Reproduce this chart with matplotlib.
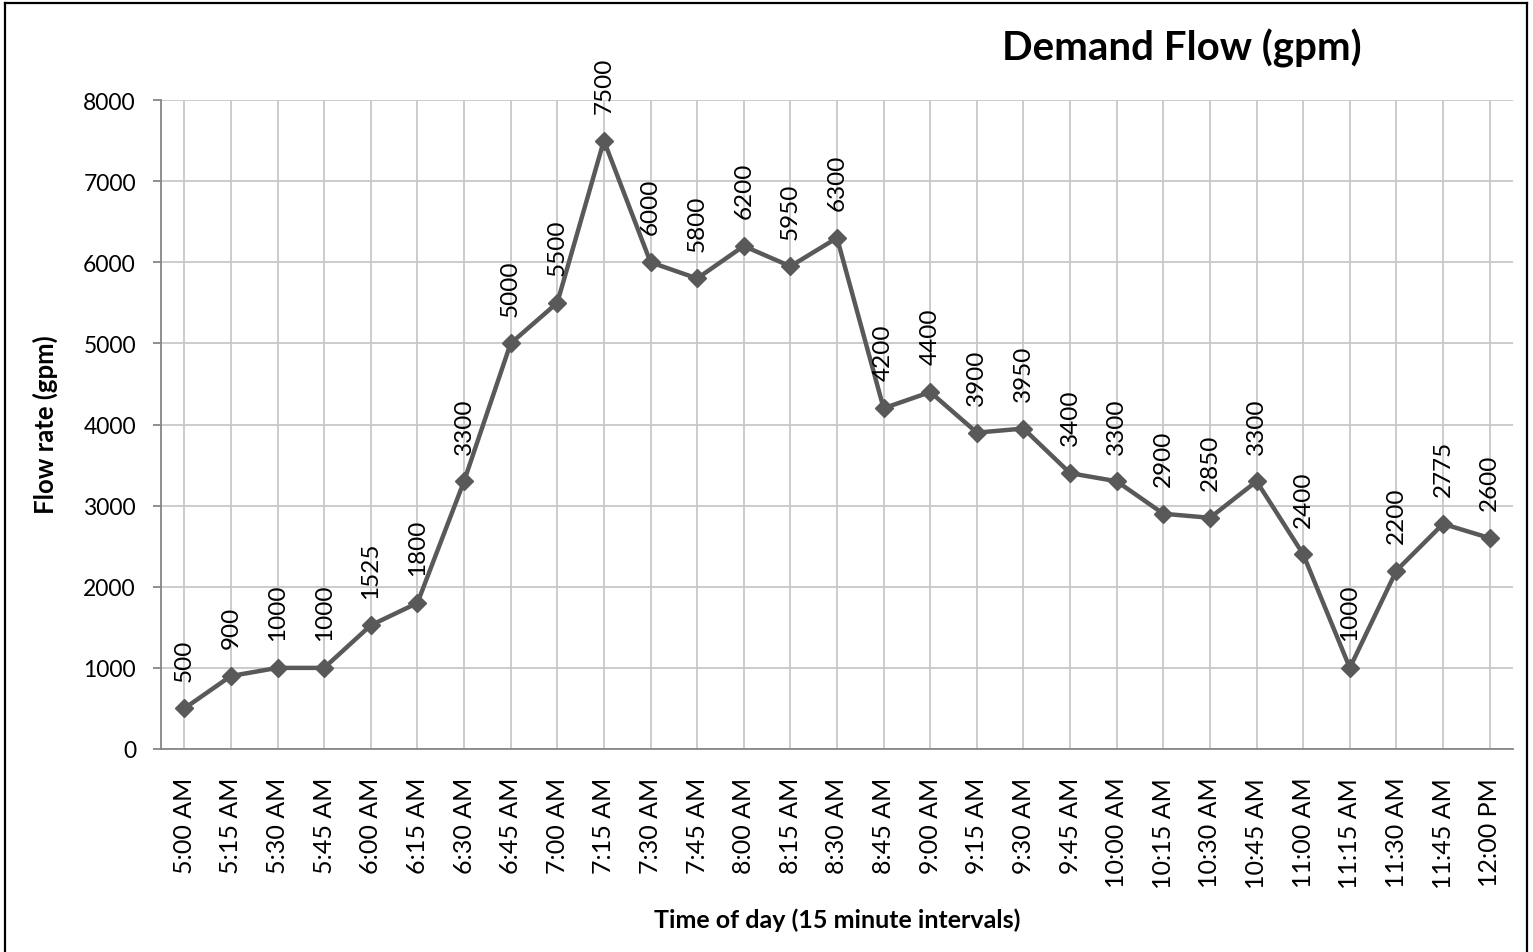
import matplotlib
matplotlib.use("Agg")
import matplotlib.pyplot as plt
from matplotlib.lines import Line2D

times = ["5:00 AM", "5:15 AM", "5:30 AM", "5:45 AM", "6:00 AM", "6:15 AM", "6:30 AM",
         "6:45 AM", "7:00 AM", "7:15 AM", "7:30 AM", "7:45 AM", "8:00 AM", "8:15 AM",
         "8:30 AM", "8:45 AM", "9:00 AM", "9:15 AM", "9:30 AM", "9:45 AM", "10:00 AM",
         "10:15 AM", "10:30 AM", "10:45 AM", "11:00 AM", "11:15 AM", "11:30 AM",
         "11:45 AM", "12:00 PM"]
flow = [500, 900, 1000, 1000, 1525, 1800, 3300, 5000, 5500, 7500, 6000, 5800, 6200,
        5950, 6300, 4200, 4400, 3900, 3950, 3400, 3300, 2900, 2850, 3300, 2400, 1000,
        2200, 2775, 2600]
yticks = [0, 1000, 2000, 3000, 4000, 5000, 6000, 7000, 8000]

plt.rcParams['font.family'] = ['Lato', 'DejaVu Sans']

fig = plt.figure(figsize=(15.33, 9.53), dpi=100)
ax = fig.add_axes([161/1533, 1-750/953, (1513-161)/1533, (750-101)/953])

x = list(range(len(times)))
ax.plot(x, flow, color='#595959', linewidth=3.2, marker='D', markersize=9.5,
        markerfacecolor='#595959', markeredgecolor='#595959', zorder=3)

for xi, v in zip(x, flow):
    ax.annotate(str(v), (xi, v), xytext=(0, 20), textcoords='offset points',
                rotation=90, ha='center', va='bottom', fontsize=17.5, color='black')

ax.set_xlim(-0.5, len(times) - 0.5)
ax.set_ylim(0, 8000)
ax.set_yticks(yticks)
ax.set_yticklabels([str(t) for t in yticks], fontsize=16.5)
ax.set_xticks(x)
ax.set_xticklabels(times, rotation=90, fontsize=18)

ax.grid(True, color='#c8c8c8', linewidth=1.3)
ax.set_axisbelow(True)
for s in ['top', 'right']:
    ax.spines[s].set_visible(False)
for s in ['left', 'bottom']:
    ax.spines[s].set_color('#868686')
    ax.spines[s].set_linewidth(1.3)
ax.tick_params(axis='y', length=6, color='#868686', width=1.3, pad=12)
ax.tick_params(axis='x', length=0, pad=20)

fig.text(1182/1533, 1-48/953, "Demand Flow (gpm)", fontsize=29, fontweight='bold',
         ha='center', va='center')
fig.text(45/1533, 1-425/953, "Flow rate (gpm)", fontsize=18.5, fontweight='bold',
         ha='center', va='center', rotation=90)
fig.text(837/1533, 1-920/953, "Time of day (15 minute intervals)", fontsize=18,
         fontweight='bold', ha='center', va='center')

# outer frame
bx0, bx1, by1 = 5/1533, 1527/1533, 1-4/953
for xs, ys in [([bx0, bx0], [0, by1]), ([bx0, bx1], [by1, by1]), ([bx1, bx1], [by1, 0])]:
    fig.add_artist(Line2D(xs, ys, transform=fig.transFigure, color='black', linewidth=1.6))

fig.savefig("out.png", dpi=100)
